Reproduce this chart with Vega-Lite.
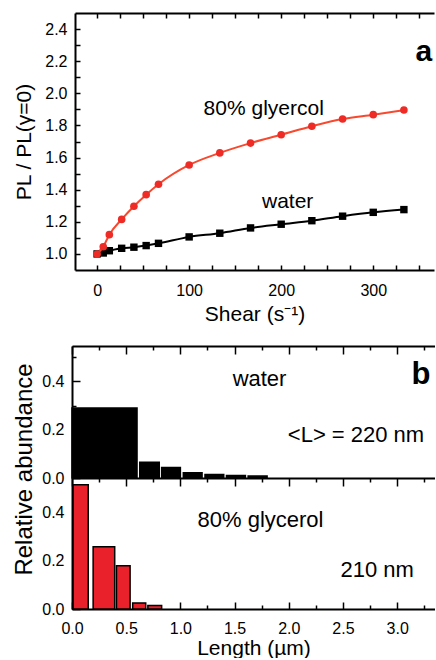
{
  "$schema": "https://vega.github.io/schema/vega-lite/v6.json",
  "padding": {"left": 12, "top": 12, "right": 0, "bottom": 0},
  "config": {
    "view": {"stroke": null},
    "font": "Liberation Sans",
    "axis": {
      "grid": false,
      "domainColor": "#000",
      "domainWidth": 2,
      "tickColor": "#000",
      "tickWidth": 1.5,
      "labelColor": "#000",
      "titleColor": "#000",
      "labelFont": "Liberation Sans",
      "titleFont": "Liberation Sans",
      "labelFontSize": 16,
      "titleFontSize": 21,
      "titleFontWeight": "normal",
      "labelFlush": false,
      "labelOverlap": false
    },
    "text": {"font": "Liberation Sans", "fill": "#000"}
  },
  "spacing": 21,
  "vconcat": [
    {
      "width": 363,
      "height": 257,
      "data": {
        "values": [
          {"medium": "glycerol", "shear": 0, "ratio": 1.0},
          {"medium": "glycerol", "shear": 6.7, "ratio": 1.045},
          {"medium": "glycerol", "shear": 13.3, "ratio": 1.12},
          {"medium": "glycerol", "shear": 26.7, "ratio": 1.215},
          {"medium": "glycerol", "shear": 40, "ratio": 1.297},
          {"medium": "glycerol", "shear": 53.3, "ratio": 1.369},
          {"medium": "glycerol", "shear": 66.7, "ratio": 1.434},
          {"medium": "glycerol", "shear": 100, "ratio": 1.554},
          {"medium": "glycerol", "shear": 133.3, "ratio": 1.629},
          {"medium": "glycerol", "shear": 166.7, "ratio": 1.69},
          {"medium": "glycerol", "shear": 200, "ratio": 1.742},
          {"medium": "glycerol", "shear": 233.3, "ratio": 1.795},
          {"medium": "glycerol", "shear": 266.7, "ratio": 1.84},
          {"medium": "glycerol", "shear": 300, "ratio": 1.867},
          {"medium": "glycerol", "shear": 333.3, "ratio": 1.896},
          {"medium": "water", "shear": 0, "ratio": 1.0},
          {"medium": "water", "shear": 6.7, "ratio": 1.006},
          {"medium": "water", "shear": 13.3, "ratio": 1.02},
          {"medium": "water", "shear": 26.7, "ratio": 1.035},
          {"medium": "water", "shear": 40, "ratio": 1.042},
          {"medium": "water", "shear": 53.3, "ratio": 1.052},
          {"medium": "water", "shear": 66.7, "ratio": 1.066},
          {"medium": "water", "shear": 100, "ratio": 1.106},
          {"medium": "water", "shear": 133.3, "ratio": 1.129},
          {"medium": "water", "shear": 166.7, "ratio": 1.162},
          {"medium": "water", "shear": 200, "ratio": 1.185},
          {"medium": "water", "shear": 233.3, "ratio": 1.207},
          {"medium": "water", "shear": 266.7, "ratio": 1.235},
          {"medium": "water", "shear": 300, "ratio": 1.259},
          {"medium": "water", "shear": 333.3, "ratio": 1.276}
        ]
      },
      "resolve": {"axis": {"x": "independent", "y": "independent"}},
      "layer": [
        {
          "transform": [{"filter": "datum.medium === 'water'"}],
          "mark": {"type": "line", "color": "#000", "strokeWidth": 2, "interpolate": "monotone"},
          "encoding": {
            "x": {
              "field": "shear", "type": "quantitative",
              "scale": {"domain": [-24, 366], "range": [3, 362], "nice": false, "zero": false},
              "axis": {
                "orient": "bottom",
                "values": [0, 25, 50, 75, 100, 125, 150, 175, 200, 225, 250, 275, 300, 325, 350],
                "tickSize": -5,
                "labelExpr": "datum.value % 100 === 0 ? datum.label : ''",
                "labelPadding": 17,
                "minExtent": 24, "maxExtent": 24,
                "title": "Shear (s⁻¹)",
                "titlePadding": 9
              }
            },
            "y": {
              "field": "ratio", "type": "quantitative",
              "scale": {"domain": [0.9, 2.5], "nice": false, "zero": false},
              "axis": {
                "orient": "left",
                "offset": -3,
                "values": [1.0, 1.1, 1.2, 1.3, 1.4, 1.5, 1.6, 1.7, 1.8, 1.9, 2.0, 2.1, 2.2, 2.3, 2.4],
                "tickSize": -5,
                "labelExpr": "round(datum.value * 10) % 2 === 0 ? format(datum.value, '.1f') : ''",
                "labelPadding": 13,
                "minExtent": 30, "maxExtent": 30,
                "title": "PL / PL(γ=0)",
                "titlePadding": 11
              }
            }
          }
        },
        {
          "transform": [{"filter": "datum.medium === 'water'"}],
          "mark": {"type": "point", "shape": "square", "filled": true, "color": "#000", "size": 55, "opacity": 1},
          "encoding": {
            "x": {
              "field": "shear", "type": "quantitative",
              "axis": {
                "orient": "top",
                "values": [0, 25, 50, 75, 100, 125, 150, 175, 200, 225, 250, 275, 300, 325, 350],
                "tickSize": -5,
                "labels": false,
                "title": null
              }
            },
            "y": {"field": "ratio", "type": "quantitative", "axis": null}
          }
        },
        {
          "transform": [{"filter": "datum.medium === 'glycerol'"}],
          "mark": {"type": "line", "color": "#f8482e", "strokeWidth": 2, "interpolate": "monotone"},
          "encoding": {
            "x": {"field": "shear", "type": "quantitative", "axis": null},
            "y": {"field": "ratio", "type": "quantitative", "axis": null}
          }
        },
        {
          "transform": [{"filter": "datum.medium === 'glycerol'"}],
          "mark": {"type": "point", "shape": "circle", "filled": true, "color": "#ee2b25", "size": 58, "opacity": 1},
          "encoding": {
            "x": {"field": "shear", "type": "quantitative", "axis": null},
            "y": {"field": "ratio", "type": "quantitative", "axis": null}
          }
        },
        {
          "data": {"values": [{}]},
          "mark": {"type": "text", "text": "80% glyercol", "fontSize": 21, "align": "center", "baseline": "alphabetic"},
          "encoding": {
            "x": {"datum": 181, "type": "quantitative", "axis": null},
            "y": {"datum": 1.865, "type": "quantitative", "axis": null}
          }
        },
        {
          "data": {"values": [{}]},
          "mark": {"type": "text", "text": "water", "fontSize": 21, "align": "center", "baseline": "alphabetic"},
          "encoding": {
            "x": {"datum": 207, "type": "quantitative", "axis": null},
            "y": {"datum": 1.284, "type": "quantitative", "axis": null}
          }
        },
        {
          "data": {"values": [{}]},
          "mark": {"type": "text", "text": "a", "fontSize": 30, "fontWeight": "bold", "align": "center", "baseline": "alphabetic"},
          "encoding": {
            "x": {"datum": 355, "type": "quantitative", "axis": null},
            "y": {"datum": 2.2, "type": "quantitative", "axis": null}
          }
        }
      ]
    },
    {
      "bounds": "flush",
      "spacing": 0,
      "vconcat": [
        {
          "width": 363,
          "height": 132,
          "data": {
            "values": [
              {"start": 0.0, "end": 0.6, "abundance": 0.29},
              {"start": 0.625, "end": 0.805, "abundance": 0.065},
              {"start": 0.827, "end": 1.0, "abundance": 0.044},
              {"start": 1.027, "end": 1.2, "abundance": 0.022},
              {"start": 1.227, "end": 1.4, "abundance": 0.014},
              {"start": 1.425, "end": 1.6, "abundance": 0.01},
              {"start": 1.625, "end": 1.8, "abundance": 0.008}
            ]
          },
          "resolve": {"axis": {"x": "independent", "y": "independent"}},
          "layer": [
            {
              "mark": {"type": "rect", "color": "#000", "stroke": "#000", "strokeWidth": 1.5},
              "encoding": {
                "x": {
                  "field": "start", "type": "quantitative",
                  "scale": {"domain": [0, 3.349], "nice": false, "zero": false},
                  "axis": {
                    "orient": "top",
                    "values": [0, 0.25, 0.5, 0.75, 1, 1.25, 1.5, 1.75, 2, 2.25, 2.5, 2.75, 3, 3.25],
                    "tickSize": {"condition": {"test": "round(datum.value * 4) % 2 === 0", "value": -8}, "value": -4},
                    "labels": false,
                    "title": null
                  }
                },
                "x2": {"field": "end"},
                "y": {
                  "field": "abundance", "type": "quantitative",
                  "scale": {"domain": [0, 0.547], "nice": false, "zero": false},
                  "axis": {
                    "orient": "left",
                    "values": [0, 0.1, 0.2, 0.3, 0.4, 0.5],
                    "tickSize": {"condition": {"test": "round(datum.value * 10) % 2 === 0", "value": -8}, "value": -4},
                    "labelExpr": "round(datum.value * 10) % 2 === 0 ? format(datum.value, '.1f') : ''",
                    "labelPadding": 16,
                    "minExtent": 27, "maxExtent": 27,
                    "title": "Relative abundance",
                    "titleFontSize": 24,
                    "titleY": 123,
                    "titlePadding": 9
                  }
                },
                "y2": {"datum": 0}
              }
            },
            {
              "data": {"values": [{}]},
              "mark": {"type": "text", "text": "water", "fontSize": 22, "align": "center", "baseline": "alphabetic"},
              "encoding": {
                "x": {"datum": 1.73, "type": "quantitative", "axis": null},
                "y": {"datum": 0.382, "type": "quantitative", "axis": null}
              }
            },
            {
              "data": {"values": [{}]},
              "mark": {"type": "text", "text": "<L> = 220 nm", "fontSize": 22, "align": "center", "baseline": "alphabetic"},
              "encoding": {
                "x": {"datum": 2.62, "type": "quantitative", "axis": null},
                "y": {"datum": 0.148, "type": "quantitative", "axis": null}
              }
            },
            {
              "data": {"values": [{}]},
              "mark": {"type": "text", "text": "b", "fontSize": 31, "fontWeight": "bold", "align": "center", "baseline": "alphabetic"},
              "encoding": {
                "x": {"datum": 3.22, "type": "quantitative", "axis": null},
                "y": {"datum": 0.389, "type": "quantitative", "axis": null}
              }
            }
          ]
        },
        {
          "width": 363,
          "height": 131,
          "data": {
            "values": [
              {"start": 0.01, "end": 0.15, "abundance": 0.514},
              {"start": 0.195, "end": 0.394, "abundance": 0.258},
              {"start": 0.41, "end": 0.536, "abundance": 0.179},
              {"start": 0.56, "end": 0.68, "abundance": 0.025},
              {"start": 0.7, "end": 0.827, "abundance": 0.014}
            ]
          },
          "resolve": {"axis": {"x": "independent", "y": "independent"}},
          "layer": [
            {
              "mark": {"type": "rect", "color": "#e8212a", "strokeWidth": 0},
              "encoding": {
                "x": {
                  "field": "start", "type": "quantitative",
                  "scale": {"domain": [0, 3.349], "nice": false, "zero": false},
                  "axis": {
                    "orient": "bottom",
                    "values": [0, 0.25, 0.5, 0.75, 1, 1.25, 1.5, 1.75, 2, 2.25, 2.5, 2.75, 3, 3.25],
                    "tickSize": {"condition": {"test": "round(datum.value * 4) % 2 === 0", "value": -7}, "value": -4},
                    "labelExpr": "round(datum.value * 4) % 2 === 0 ? format(datum.value, '.1f') : ''",
                    "labelPadding": 18,
                    "minExtent": 22, "maxExtent": 22,
                    "title": "Length (µm)",
                    "titlePadding": 6
                  }
                },
                "x2": {"field": "end"},
                "y": {
                  "field": "abundance", "type": "quantitative",
                  "scale": {"domain": [0, 0.542], "nice": false, "zero": false},
                  "axis": {
                    "orient": "left",
                    "values": [0, 0.1, 0.2, 0.3, 0.4, 0.5],
                    "tickSize": {"condition": {"test": "round(datum.value * 10) % 2 === 0", "value": -8}, "value": -4},
                    "labelExpr": "round(datum.value * 10) % 2 === 0 ? format(datum.value, '.1f') : ''",
                    "labelPadding": 16,
                    "minExtent": 27, "maxExtent": 27,
                    "title": null
                  }
                },
                "y2": {"datum": 0}
              }
            },
            {
              "mark": {"type": "rect", "fillOpacity": 0, "stroke": "#000", "strokeWidth": 1.5},
              "encoding": {
                "x": {
                  "field": "start", "type": "quantitative",
                  "axis": {
                    "orient": "top",
                    "values": [0, 0.25, 0.5, 0.75, 1, 1.25, 1.5, 1.75, 2, 2.25, 2.5, 2.75, 3, 3.25],
                    "tickSize": {"condition": {"test": "round(datum.value * 4) % 2 === 0", "value": -8}, "value": -4},
                    "labels": false,
                    "title": null
                  }
                },
                "x2": {"field": "end"},
                "y": {"field": "abundance", "type": "quantitative", "axis": null},
                "y2": {"datum": 0}
              }
            },
            {
              "data": {"values": [{}]},
              "mark": {"type": "text", "text": "80% glycerol", "fontSize": 22, "align": "center", "baseline": "alphabetic"},
              "encoding": {
                "x": {"datum": 1.739, "type": "quantitative", "axis": null},
                "y": {"datum": 0.338, "type": "quantitative", "axis": null}
              }
            },
            {
              "data": {"values": [{}]},
              "mark": {"type": "text", "text": "210 nm", "fontSize": 22, "align": "center", "baseline": "alphabetic"},
              "encoding": {
                "x": {"datum": 2.815, "type": "quantitative", "axis": null},
                "y": {"datum": 0.131, "type": "quantitative", "axis": null}
              }
            }
          ]
        }
      ]
    }
  ]
}
